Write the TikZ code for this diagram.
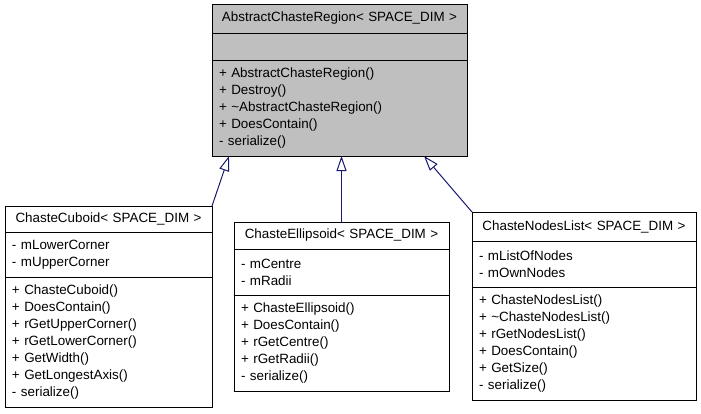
\documentclass[tikz,border=0pt]{standalone}
\usepackage{fontspec}
\setmainfont{Liberation Sans}
\usetikzlibrary{positioning,arrows.meta}

\definecolor{edgeblue}{HTML}{191970}
\definecolor{basegray}{HTML}{BFBFBF}

\tikzset{
    classpart/.style={draw=black,line width=1pt,outer sep=0pt,inner xsep=7pt,inner ysep=0pt,
        align=left,anchor=north west,font=\fontsize{13.4}{17}\selectfont},
    classhead/.style={classpart,align=center},
    inherit/.style={draw=edgeblue,line width=1pt,-{Triangle[fill=white,length=15pt,width=10pt]}}
}

\begin{document}
\begin{tikzpicture}[x=1pt,y=-1pt]
    \useasboundingbox[fill=white] (0,0) rectangle (701,413);
    % base class
    \node[classhead,fill=basegray,text width=241pt,minimum height=29pt] (abs) at (212,4) {AbstractChasteRegion< SPACE\_DIM >};
    \node[classpart,fill=basegray,text width=241pt,minimum height=27pt,below=0pt of abs] (absattr) {};
    \node[classpart,fill=basegray,text width=241pt,minimum height=96pt,below=0pt of absattr] (absmeth)
    {+ AbstractChasteRegion()\\+ Destroy()\\+ \textasciitilde AbstractChasteRegion()\\+ DoesContain()\\- serialize()};
    % cuboid
    \node[classhead,text width=193pt,minimum height=26pt] (cub) at (5,206) {ChasteCuboid< SPACE\_DIM >};
    \node[classpart,text width=193pt,minimum height=45pt,below=0pt of cub] (cubattr) {- mLowerCorner\\- mUpperCorner};
    \node[classpart,text width=193pt,minimum height=130pt,below=0pt of cubattr] (cubmeth)
    {+ ChasteCuboid()\\+ DoesContain()\\+ rGetUpperCorner()\\+ rGetLowerCorner()\\+ GetWidth()\\+ GetLongestAxis()\\- serialize()};
    % ellipsoid
    \node[classhead,text width=201pt,minimum height=27pt] (ell) at (234,222) {ChasteEllipsoid< SPACE\_DIM >};
    \node[classpart,text width=201pt,minimum height=46pt,below=0pt of ell] (ellattr) {- mCentre\\- mRadii};
    \node[classpart,text width=201pt,minimum height=96pt,below=0pt of ellattr] (ellmeth)
    {+ ChasteEllipsoid()\\+ DoesContain()\\+ rGetCentre()\\+ rGetRadii()\\- serialize()};
    % nodes list
    \node[classhead,text width=210pt,minimum height=29pt] (nodes) at (472,212) {ChasteNodesList< SPACE\_DIM >};
    \node[classpart,text width=210pt,minimum height=46pt,below=0pt of nodes] (nodesattr) {- mListOfNodes\\- mOwnNodes};
    \node[classpart,text width=210pt,minimum height=113pt,below=0pt of nodesattr] (nodesmeth)
    {+ ChasteNodesList()\\+ \textasciitilde ChasteNodesList()\\+ rGetNodesList()\\+ DoesContain()\\+ GetSize()\\- serialize()};
    % inheritance
    \coordinate (tipL) at ([xshift=17pt]absmeth.south west);
    \coordinate (tipR) at ([xshift=-43pt]absmeth.south east);
    \draw[inherit] (cub.north east) -- (tipL);
    \draw[inherit] (ell.north) -- (ell.north |- absmeth.south);
    \draw[inherit] (nodes.north west) -- (tipR);
\end{tikzpicture}
\end{document}
